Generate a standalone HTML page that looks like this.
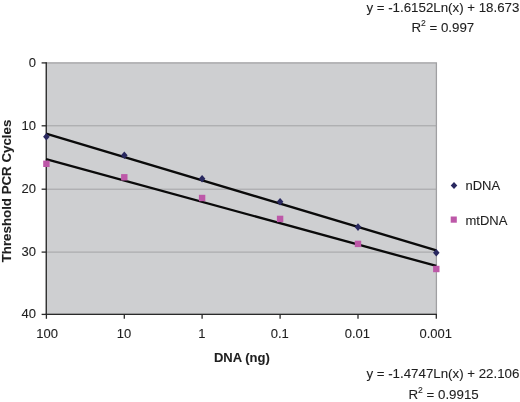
<!DOCTYPE html>
<html><head><meta charset="utf-8"><style>
html,body{margin:0;padding:0;background:#fff;}
svg{display:block;filter:blur(0.3px);}
text{font-family:"Liberation Sans",sans-serif;font-size:13px;fill:#1e1e1e;stroke:#1e1e1e;stroke-width:0.1px;}
.b{font-weight:bold;}
.eq{font-size:13.3px;}
</style></head><body>
<svg width="520" height="402" viewBox="0 0 520 402">
<rect x="0" y="0" width="520" height="402" fill="#fff"/>
<rect x="46" y="62.9" width="390.4" height="251.4" fill="#cecfd1" stroke="#a0a0a3" stroke-width="1.3"/>
<line x1="46" x2="436.5" y1="125.80" y2="125.80" stroke="#a3a3a6" stroke-width="1.0"/><line x1="46" x2="436.5" y1="189.20" y2="189.20" stroke="#a3a3a6" stroke-width="1.0"/><line x1="46" x2="436.5" y1="252.10" y2="252.10" stroke="#a3a3a6" stroke-width="1.0"/>
<line x1="46.4" x2="46.4" y1="62.3" y2="315" stroke="#333" stroke-width="1.25"/>
<line x1="45.5" x2="437" y1="314.4" y2="314.4" stroke="#2a2a2a" stroke-width="1.4"/>
<line x1="41.6" x2="46.5" y1="62.90" y2="62.90" stroke="#2a2a2a" stroke-width="1.3"/><line x1="41.6" x2="46.5" y1="125.80" y2="125.80" stroke="#2a2a2a" stroke-width="1.3"/><line x1="41.6" x2="46.5" y1="189.20" y2="189.20" stroke="#2a2a2a" stroke-width="1.3"/><line x1="41.6" x2="46.5" y1="252.10" y2="252.10" stroke="#2a2a2a" stroke-width="1.3"/><line x1="41.6" x2="46.5" y1="314.40" y2="314.40" stroke="#2a2a2a" stroke-width="1.3"/><line x1="46.4" x2="46.4" y1="314" y2="318.8" stroke="#2a2a2a" stroke-width="1.3"/><line x1="124.3" x2="124.3" y1="314" y2="318.8" stroke="#2a2a2a" stroke-width="1.3"/><line x1="202.1" x2="202.1" y1="314" y2="318.8" stroke="#2a2a2a" stroke-width="1.3"/><line x1="280.1" x2="280.1" y1="314" y2="318.8" stroke="#2a2a2a" stroke-width="1.3"/><line x1="358.0" x2="358.0" y1="314" y2="318.8" stroke="#2a2a2a" stroke-width="1.3"/><line x1="436.3" x2="436.3" y1="314" y2="318.8" stroke="#2a2a2a" stroke-width="1.3"/>
<line x1="46" y1="133.54" x2="436.3" y2="250.46" stroke="#0a0a0a" stroke-width="2.3"/>
<line x1="46" y1="159.19" x2="436.3" y2="265.94" stroke="#0a0a0a" stroke-width="2.3"/>
<path d="M46.4 133.0L49.7 136.8L46.4 140.6L43.1 136.8Z" fill="#29285f"/><path d="M124.3 151.4L127.6 155.2L124.3 159.0L121.0 155.2Z" fill="#29285f"/><path d="M202.1 174.9L205.4 178.7L202.1 182.5L198.8 178.7Z" fill="#29285f"/><path d="M280.1 198.0L283.4 201.8L280.1 205.6L276.8 201.8Z" fill="#29285f"/><path d="M358.0 223.3L361.3 227.1L358.0 230.9L354.7 227.1Z" fill="#29285f"/><path d="M436.3 249.0L439.6 252.8L436.3 256.6L433.0 252.8Z" fill="#29285f"/><rect x="43.2" y="160.6" width="6.4" height="6.4" fill="#bd58a8"/><rect x="121.1" y="174.1" width="6.4" height="6.4" fill="#bd58a8"/><rect x="198.9" y="194.8" width="6.4" height="6.4" fill="#bd58a8"/><rect x="276.9" y="215.7" width="6.4" height="6.4" fill="#bd58a8"/><rect x="354.8" y="240.7" width="6.4" height="6.4" fill="#bd58a8"/><rect x="433.1" y="265.8" width="6.4" height="6.4" fill="#bd58a8"/>
<text x="36" y="67.00" text-anchor="end">0</text><text x="36" y="129.50" text-anchor="end">10</text><text x="36" y="193.30" text-anchor="end">20</text><text x="36" y="255.70" text-anchor="end">30</text><text x="36" y="318.20" text-anchor="end">40</text><text x="47.2" y="337.8" text-anchor="middle">100</text><text x="123.9" y="337.8" text-anchor="middle">10</text><text x="201.9" y="337.8" text-anchor="middle">1</text><text x="279.7" y="337.8" text-anchor="middle">0.1</text><text x="357.4" y="337.8" text-anchor="middle">0.01</text><text x="435.7" y="337.8" text-anchor="middle">0.001</text>
<text class="b" x="241.9" y="362.1" text-anchor="middle">DNA (ng)</text>
<text class="b" style="font-size:13.3px" transform="translate(11.3,191) rotate(-90)" text-anchor="middle">Threshold PCR Cycles</text>
<path d="M454 182L457.3 185.5L454 189L450.7 185.5Z" fill="#29285f"/>
<rect x="450.7" y="216.5" width="6.1" height="6.2" fill="#bd58a8"/>
<text x="465.5" y="190">nDNA</text>
<text x="465.5" y="224.6">mtDNA</text>
<text class="eq" x="442.9" y="12" text-anchor="middle">y = -1.6152Ln(x) + 18.673</text>
<text class="eq" x="442.8" y="31.5" text-anchor="middle">R<tspan font-size="8.6" dy="-5.6">2</tspan><tspan dy="5.6"> = 0.997</tspan></text>
<text class="eq" x="442.9" y="378.2" text-anchor="middle">y = -1.4747Ln(x) + 22.106</text>
<text class="eq" x="443.6" y="398.6" text-anchor="middle">R<tspan font-size="8.6" dy="-5.6">2</tspan><tspan dy="5.6"> = 0.9915</tspan></text>
</svg>
</body></html>
